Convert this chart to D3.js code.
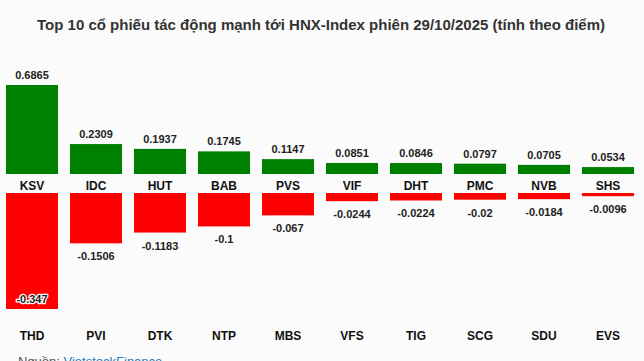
<!DOCTYPE html>
<html><head><meta charset="utf-8">
<script src="https://cdn.jsdelivr.net/npm/d3@7"></script>
<style>body{margin:0;background:#fbfbfb;}svg{display:block;}</style>
</head><body>
<svg id="c" width="644" height="361"></svg>
<script>
const posTickers = ["KSV","IDC","HUT","BAB","PVS","VIF","DHT","PMC","NVB","SHS"];
const posValues = [0.6865,0.2309,0.1937,0.1745,0.1147,0.0851,0.0846,0.0797,0.0705,0.0534];
const negTickers = ["THD","PVI","DTK","NTP","MBS","VFS","TIG","SCG","SDU","EVS"];
const negValues = [-0.347,-0.1506,-0.1183,-0.1,-0.067,-0.0244,-0.0224,-0.02,-0.0184,-0.0096];
const title = "Top 10 cổ phiếu tác động mạnh tới HNX-Index phiên 29/10/2025 (tính theo điểm)";

const svg = d3.select("#c");
const font = "Arial, 'Liberation Sans', sans-serif";
svg.append("rect").attr("width",644).attr("height",361).attr("fill","#fbfbfb");

svg.append("text").attr("x",321).attr("y",30).attr("text-anchor","middle")
  .attr("font-family",font).attr("font-weight","bold").attr("font-size",15)
  .attr("fill","#333").text(title);

const idx = d3.range(10);
const x = d3.scaleBand().domain(idx).range([0,640]).paddingInner(0.1875).paddingOuter(0.09375);

// positive panel
const yP = d3.scaleLinear().domain([0,0.6865]).range([174,85]);
// negative panel
const yN = d3.scaleLinear().domain([0,-0.347]).range([193,309]);

svg.append("g").selectAll("rect").data(idx).join("rect")
  .attr("x",i=>x(i)).attr("width",x.bandwidth())
  .attr("y",i=>yP(posValues[i])).attr("height",i=>yP(0)-yP(posValues[i]))
  .attr("fill","#008000");

svg.append("g").selectAll("text").data(idx).join("text")
  .attr("x",i=>x(i)+x.bandwidth()/2).attr("y",i=>yP(posValues[i])-6)
  .attr("text-anchor","middle").attr("font-family",font).attr("font-weight","bold")
  .attr("font-size",11).attr("fill","#222").text(i=>posValues[i]);

svg.append("g").selectAll("text").data(idx).join("text")
  .attr("x",i=>x(i)+x.bandwidth()/2).attr("y",190)
  .attr("text-anchor","middle").attr("font-family",font).attr("font-weight","bold")
  .attr("font-size",12).attr("fill","#111").text(i=>posTickers[i]);

svg.append("g").selectAll("rect").data(idx).join("rect")
  .attr("x",i=>x(i)).attr("width",x.bandwidth())
  .attr("y",yN(0)).attr("height",i=>yN(negValues[i])-yN(0))
  .attr("fill","#ff0000");

svg.append("g").selectAll("text").data(idx).join("text")
  .attr("x",i=>x(i)+x.bandwidth()/2)
  .attr("y",i=>{const b=yN(negValues[i]); return b+17>312 ? b-6 : b+17;})
  .attr("text-anchor","middle").attr("font-family",font).attr("font-weight","bold")
  .attr("font-size",11).attr("fill","#222")
  .attr("stroke",i=>yN(negValues[i])+17>312?"#fff":"none").attr("stroke-width",2.5)
  .attr("paint-order","stroke").attr("stroke-linejoin","round")
  .text(i=>negValues[i]);

svg.append("g").selectAll("text").data(idx).join("text")
  .attr("x",i=>x(i)+x.bandwidth()/2).attr("y",340)
  .attr("text-anchor","middle").attr("font-family",font).attr("font-weight","bold")
  .attr("font-size",12).attr("fill","#111").text(i=>negTickers[i]);

const src = svg.append("text").attr("x",18).attr("y",366).attr("font-family",font)
  .attr("font-size",13).attr("fill","#555");
src.append("tspan").text("Nguồn: ");
src.append("tspan").attr("fill","#2a7ab8").text("VietstockFinance");
</script>
</body></html>
